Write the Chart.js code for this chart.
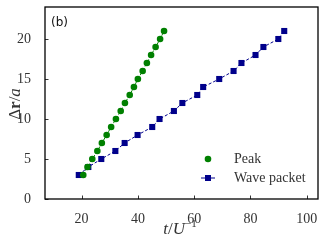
<!DOCTYPE html>
<html>
<head>
<meta charset="utf-8">
<script src="https://cdn.jsdelivr.net/npm/chart.js@4.4.0/dist/chart.umd.min.js"></script>
<style>
  html, body { margin: 0; padding: 0; background: #fff; }
</style>
</head>
<body>
<canvas id="speedChart" width="327" height="245"></canvas>
<script>
// values
var peakT = [20.6, 22.1, 23.8, 25.6, 27.2, 28.9, 30.5, 32.2, 33.9, 35.4, 37.1, 38.6, 40.0, 41.7, 43.2, 44.7, 46.3, 47.9, 49.3];
var peakR = [3, 4, 5, 6, 7, 8, 9, 10, 11, 12, 13, 14, 15, 16, 17, 18, 19, 20, 21];
var waveT = [19.0, 22.4, 27.0, 32.0, 35.3, 39.9, 45.1, 47.7, 52.8, 55.8, 61.1, 63.2, 68.9, 74.0, 76.8, 81.8, 84.6, 89.9, 92.0];
var waveR = [3, 4, 5, 6, 7, 8, 9, 10, 11, 12, 13, 14, 15, 16, 17, 18, 19, 20, 21];
var xTicks = [20, 40, 60, 80, 100];
var yTicks = [0, 5, 10, 15, 20];
var seriesNames = ['Peak', 'Wave packet'];

var green = '#008000';
var navy = '#00008b';
var serif = '"Liberation Serif", "DejaVu Serif", serif';

function pairs(xs, ys) {
    return xs.map(function (x, i) { return {x: x, y: ys[i]}; });
}

// frame with inward ticks, panel tag, axis titles and legend
var decorations = {
    id: 'decorations',
    afterDraw: function (chart) {
        var ctx = chart.ctx;
        var a = chart.chartArea;
        var sx = chart.scales.x, sy = chart.scales.y;
        ctx.save();
        ctx.strokeStyle = '#000';
        ctx.lineWidth = 1.3;
        ctx.strokeRect(a.left, a.top, a.right - a.left, a.bottom - a.top);

        ctx.lineWidth = 0.8;
        ctx.beginPath();
        xTicks.forEach(function (v) {
            var px = Math.round(sx.getPixelForValue(v)) + 0.5;
            ctx.moveTo(px, a.bottom);
            ctx.lineTo(px, a.bottom - 3.5);
        });
        yTicks.forEach(function (v) {
            var py = Math.round(sy.getPixelForValue(v)) + 0.5;
            ctx.moveTo(a.left, py);
            ctx.lineTo(a.left + 3.5, py);
        });
        ctx.stroke();

        ctx.fillStyle = '#111';
        ctx.font = '12px "DejaVu Sans", sans-serif';
        ctx.textBaseline = 'middle';
        ctx.fillText('(b)', a.left + 6, a.top + 16);

        // x title: t/U^-1
        ctx.textBaseline = 'alphabetic';
        ctx.fillStyle = '#333';
        var xParts = [
            {t: 't', f: 'italic 17px ' + serif, dy: 0},
            {t: '/', f: '17px ' + serif, dy: 0},
            {t: 'U', f: 'italic 17px ' + serif, dy: 0},
            {t: '\u22121', f: '11px ' + serif, dy: -7}
        ];
        drawParts(ctx, xParts, 180, 234);

        // y title: Δr/a rotated
        ctx.translate(20, 104);
        ctx.rotate(-Math.PI / 2);
        var yParts = [
            {t: '\u0394', f: '17px ' + serif, dy: 0},
            {t: 'r', f: 'bold 17px ' + serif, dy: 0},
            {t: '/', f: '17px ' + serif, dy: 0},
            {t: 'a', f: 'italic 17px ' + serif, dy: 0}
        ];
        drawParts(ctx, yParts, 0, 0);
        ctx.setTransform(1, 0, 0, 1, 0, 0);

        // legend
        var lx = 208, ly1 = 159, ly2 = 178;
        ctx.fillStyle = green;
        ctx.beginPath();
        ctx.arc(lx, ly1, 3.3, 0, Math.PI * 2);
        ctx.fill();
        ctx.strokeStyle = navy;
        ctx.lineWidth = 1;
        ctx.beginPath();
        ctx.moveTo(lx - 7, ly2);
        ctx.lineTo(lx + 7, ly2);
        ctx.stroke();
        ctx.fillStyle = navy;
        ctx.fillRect(lx - 3, ly2 - 3, 6, 6);
        ctx.fillStyle = '#333';
        ctx.font = '14px ' + serif;
        ctx.textBaseline = 'middle';
        ctx.fillText(seriesNames[0], 234, ly1);
        ctx.fillText(seriesNames[1], 234, ly2);
        ctx.restore();
    }
};

function drawParts(ctx, parts, cx, y) {
    var total = 0;
    parts.forEach(function (p) { ctx.font = p.f; p.w = ctx.measureText(p.t).width; total += p.w; });
    var x = cx - total / 2;
    ctx.textAlign = 'left';
    parts.forEach(function (p) {
        ctx.font = p.f;
        ctx.fillText(p.t, x, y + p.dy);
        x += p.w;
    });
}

var speedChart = new Chart(document.getElementById('speedChart'), {
    type: 'scatter',
    data: {
        datasets: [{
            label: seriesNames[0],
            data: pairs(peakT, peakR),
            showLine: true,
            borderColor: green,
            borderWidth: 1,
            borderDash: [3, 2],
            backgroundColor: green,
            pointStyle: 'circle',
            pointRadius: 3.3,
            pointBorderWidth: 0
        }, {
            label: seriesNames[1],
            data: pairs(waveT, waveR),
            showLine: true,
            borderColor: navy,
            borderWidth: 1,
            borderDash: [3, 2],
            backgroundColor: navy,
            pointStyle: 'rect',
            pointRadius: 4.3,
            pointBorderWidth: 0
        }]
    },
    options: {
        responsive: false,
        animation: false,
        devicePixelRatio: 1,
        layout: { padding: { top: 7, right: 9, left: 0, bottom: 0 } },
        plugins: { legend: { display: false }, tooltip: { enabled: false } },
        scales: {
            x: {
                type: 'linear',
                min: 7,
                max: 104,
                afterBuildTicks: function (s) { s.ticks = xTicks.map(function (v) { return {value: v}; }); },
                afterFit: function (s) { s.height = 46; s.paddingLeft = 0; s.paddingRight = 0; },
                grid: { display: false },
                border: { display: false },
                ticks: { color: '#333', padding: 4, font: { family: serif, size: 14 }, maxRotation: 0 }
            },
            y: {
                type: 'linear',
                min: 0,
                max: 24,
                afterBuildTicks: function (s) { s.ticks = yTicks.map(function (v) { return {value: v}; }); },
                afterFit: function (s) { s.width = 45; s.paddingTop = 0; s.paddingBottom = 0; },
                grid: { display: false },
                border: { display: false },
                ticks: { color: '#333', padding: 6, font: { family: serif, size: 14 } }
            }
        }
    },
    plugins: [decorations]
});
</script>
</body>
</html>
